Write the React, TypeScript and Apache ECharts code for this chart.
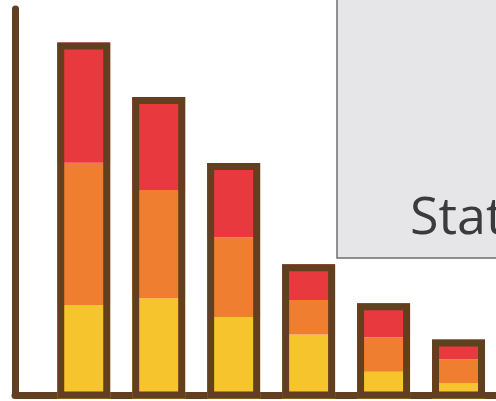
import React, { useEffect, useRef } from "react";
import * as echarts from "echarts";

const categories = ["1", "2", "3", "4", "5", "6"];
const yellowValues = [24.2, 26.0, 21.1, 16.6, 6.9, 4.0];
const orangeValues = [36.9, 28.0, 20.7, 8.9, 9.0, 6.2];
const redValues = [31.1, 24.1, 19.2, 9.3, 8.8, 5.1];
const boxTitle = "Statistics";

const BROWN = "#62401f";

export default function App() {
  const ref = useRef<HTMLDivElement>(null);
  useEffect(() => {
    if (!ref.current) return;
    const chart = echarts.init(ref.current, undefined, { renderer: "svg" });
    const totals = categories.map(
      (_, i) => +(yellowValues[i] + orangeValues[i] + redValues[i]).toFixed(1)
    );
    const segment = (name: string, data: number[], color: string) => ({
      name,
      type: "bar",
      stack: "total",
      xAxisIndex: 1,
      yAxisIndex: 1,
      barWidth: 53,
      barGap: "-100%",
      data,
      itemStyle: { color },
      silent: true,
      z: 2,
    });
    chart.setOption({
      animation: false,
      grid: [
        { left: 15, right: -10, top: 9, bottom: 6 },
        { left: 46.25, width: 453, top: 12.5, bottom: 2.5 },
      ],
      xAxis: [
        {
          gridIndex: 0,
          type: "value",
          min: 0,
          max: 1,
          axisLine: { show: true, lineStyle: { color: BROWN, width: 7, cap: "round" } },
          axisTick: { show: false },
          axisLabel: { show: false },
          splitLine: { show: false },
        },
        {
          gridIndex: 1,
          type: "category",
          data: categories,
          axisLine: { show: false },
          axisTick: { show: false },
          axisLabel: { show: false },
          splitLine: { show: false },
        },
      ],
      yAxis: [
        {
          gridIndex: 0,
          type: "value",
          min: 0,
          max: 100,
          axisLine: { show: true, lineStyle: { color: BROWN, width: 7, cap: "round" } },
          axisTick: { show: false },
          axisLabel: { show: false },
          splitLine: { show: false },
        },
        {
          gridIndex: 1,
          type: "value",
          min: 0,
          max: 100,
          show: false,
          splitLine: { show: false },
        },
      ],
      series: [
        segment("Yellow", yellowValues, "#f6c52e"),
        segment("Orange", orangeValues, "#f07e30"),
        segment("Red", redValues, "#e8393e"),
        {
          name: "Outline",
          type: "bar",
          xAxisIndex: 1,
          yAxisIndex: 1,
          barWidth: 53,
          barGap: "-100%",
          data: totals,
          itemStyle: {
            color: "rgba(0,0,0,0)",
            borderColor: BROWN,
            borderWidth: 7,
          },
          silent: true,
          z: 3,
        },
      ],
      graphic: [
        {
          type: "rect",
          z: 10,
          shape: { x: 337, y: -10, width: 200, height: 268 },
          style: { fill: "#e6e5e7", stroke: "#6f6f6f", lineWidth: 1.5 },
        },
        {
          type: "text",
          z: 11,
          x: 410,
          y: 213,
          style: {
            text: boxTitle,
            fontFamily: "Open Sans",
            fontSize: 52,
            fill: "#3b3b3b",
            verticalAlign: "middle",
            align: "left",
          },
        },
      ],
    });
    return () => chart.dispose();
  }, []);
  return <div ref={ref} style={{ width: 496, height: 401, position: "absolute", left: 0, top: 0 }} />;
}
